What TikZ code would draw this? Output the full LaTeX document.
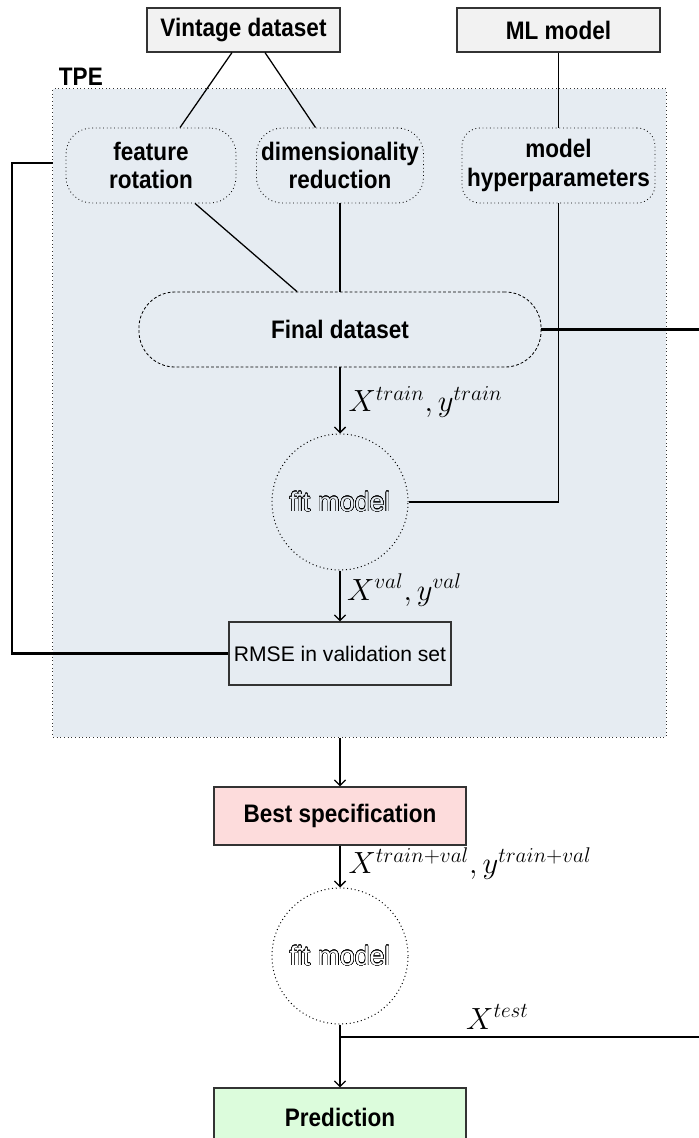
\documentclass[tikz,border=0pt]{standalone}
\usepackage{fontspec}
\setsansfont{Liberation Sans}
\newfontfamily\narrowsans{Liberation Sans}[FakeStretch=0.89]
\usepackage{contour}
\usetikzlibrary{arrows.meta}
\contourlength{0.3pt}
\contournumber{24}
\definecolor{tpeback}{RGB}{230,236,242}
\definecolor{topback}{RGB}{242,242,242}
\definecolor{bestback}{RGB}{253,220,220}
\definecolor{predback}{RGB}{220,252,220}
\definecolor{boxline}{RGB}{51,51,51}
\newcommand{\hollowtext}[2]{\contour{black}{\textcolor{#1}{#2}}}

\begin{document}
\begin{tikzpicture}[x=0.025cm,y=-0.025cm,
  every node/.style={font=\narrowsans\bfseries\fontsize{18}{20}\selectfont, align=center},
  topbox/.style={draw=boxline, line width=0.8pt, fill=topback, minimum height=1.1cm},
  tpebox/.style={draw=boxline, dotted, line width=0.6pt, fill=tpeback},
  choice/.style={draw=black, dotted, line width=0.6pt, rounded corners=0.65cm, minimum height=1.875cm},
  dataset/.style={draw=black, dash pattern=on 2pt off 1.5pt, line width=0.6pt, rounded corners=0.9cm, minimum height=1.875cm},
  fitter/.style={draw=black, dotted, line width=0.7pt, circle, minimum size=3.4cm, font=\sffamily\fontsize{19}{21}\selectfont},
  result/.style={draw=boxline, line width=0.8pt, minimum width=6.3cm, minimum height=1.45cm},
  mathlabel/.style={font=\huge, scale=1.05, transform shape},
  link/.style={line width=0.9pt},
  fback/.style={line width=2pt},
  >={Straight Barb[length=4pt,width=8pt]}
]
\useasboundingbox (0,0) rectangle (698,1138);

% tuning block
\node (tpe) [tpebox, minimum width=15.325cm, minimum height=16.2cm] at (359.5,413) {};
\node (tpename) [anchor=base west] at (54,85) {TPE};

% inputs
\node (vintage) [topbox, minimum width=4.825cm] at (243.5,30) {Vintage dataset};
\node (mlmodel) [topbox, minimum width=5.075cm] at (558.5,30) {ML model};

\node (featrot) [choice, minimum width=4.25cm] at (151,165.5) {feature\\rotation};
\node (dimred) [choice, minimum width=4.075cm] at (340,165.5) {dimensionality\\reduction};
\node (hyper) [choice, minimum width=4.825cm, rounded corners=0.45cm] at (558.5,165.5) {model\\hyperparameters};

\node (final) [dataset, minimum width=10.05cm] at (340,329.5) {Final dataset};
\node (fit1) [fitter] at (340,502) {\hollowtext{tpeback}{fit model}};
\node (rmse) [draw=boxline, line width=0.8pt, minimum width=5.55cm, minimum height=1.575cm,
  font=\sffamily\fontsize{15}{17}\selectfont] at (340,653.5) {RMSE in validation set};

% final fit
\node (best) [result, fill=bestback] at (340,816) {Best specification};
\node (fit2) [fitter] at (340,956) {\hollowtext{white}{fit model}};
\node (pred) [result, fill=predback] at (340,1117) {Prediction};

\coordinate (fbturn) at (12,163);
\coordinate (fbend) at (53,163);
\coordinate (exitA) at (710,329.5);
\coordinate (split) at (340,1037);
\coordinate (exitB) at (710,1037);

\draw[link] ([xshift=-0.2875cm]vintage.south) -- ([xshift=0.725cm]featrot.north);
\draw[link] ([xshift=0.5375cm]vintage.south) -- ([xshift=-0.6125cm]dimred.north);
\draw[link] (mlmodel.south) -- (hyper.north);
\draw[link] ([xshift=1.1cm]featrot.south) -- ([xshift=-1.075cm]final.north);
\draw[link] (dimred.south) -- (final.north);
\draw[link] (hyper.south) |- (fit1.east);

\draw[link,->] (final.south) -- node[mathlabel, right, xshift=2pt, yshift=-1pt] {$X^{train},y^{train}$} (fit1.north);
\draw[link,->] (fit1.south) -- node[mathlabel, right, xshift=1pt, yshift=4pt] {$X^{val},y^{val}$} (rmse.north);
\draw[fback] (final.east) -- (exitA);
\draw[fback] (rmse.west) -| (fbturn) -- (fbend);

\draw[link,->] (tpe.south -| best.north) -- (best.north);
\draw[link,->] (best.south) -- node[mathlabel, right, xshift=2pt, yshift=2pt] {$X^{train+val},y^{train+val}$} (fit2.north);
\draw[link,->] (fit2.south) -- (pred.north);
\draw[fback] (split) -- (exitB);
\node (testlabel) [mathlabel, anchor=base west] at (461,1029) {$X^{test}$};

\end{tikzpicture}
\end{document}
